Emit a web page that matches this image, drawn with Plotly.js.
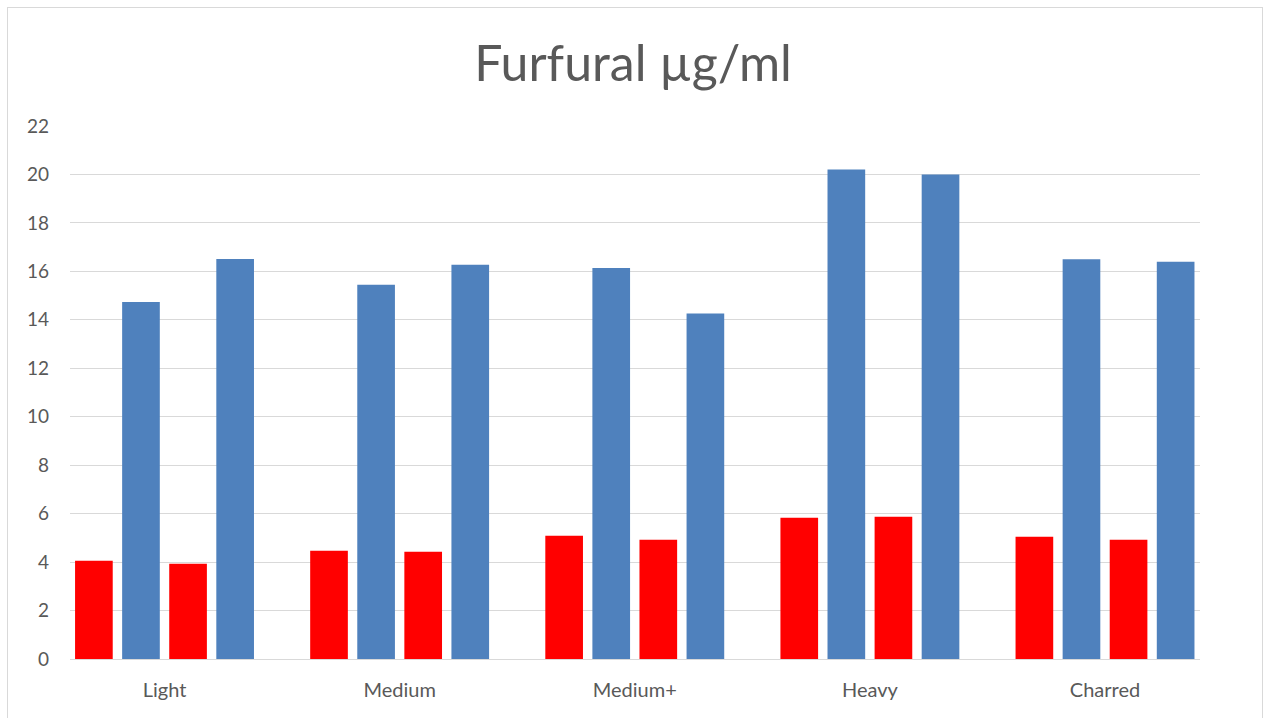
<!DOCTYPE html>
<html>
<head>
<meta charset="utf-8">
<script src="https://cdn.plot.ly/plotly-3.0.1.min.js"></script>
<style>
  html, body { margin: 0; padding: 0; background: #fff; }
  #chart { width: 1266px; height: 718px; }
  #frame { position: absolute; left: 7px; top: 7px; width: 1254px; height: 720px; border: 1px solid #D9D9D9; pointer-events: none; }
</style>
</head>
<body>
<div id="chart"></div>
<div id="frame"></div>
<script>
const categories = ["Light", "Medium", "Medium+", "Heavy", "Charred"];
const red1 = [4.06, 4.47, 5.09, 5.83, 5.05];
const blue1 = [14.74, 15.45, 16.14, 20.20, 16.50];
const red2 = [3.93, 4.43, 4.92, 5.87, 4.92];
const blue2 = [16.51, 16.27, 14.26, 20.00, 16.40];
const yTicks = [0, 2, 4, 6, 8, 10, 12, 14, 16, 18, 20, 22];

const RED = "#FF0000";
const BLUE = "#4F81BD";

function bar(y, color, name) {
  return { type: "bar", x: categories, y: y, name: name, marker: { color: color }, showlegend: false, hoverinfo: "x+y" };
}

const data = [
  bar(red1, RED, "Series 1"),
  bar(blue1, BLUE, "Series 2"),
  bar(red2, RED, "Series 3"),
  bar(blue2, BLUE, "Series 4")
];

const layout = {
  width: 1266, height: 718,
  paper_bgcolor: "#FFFFFF", plot_bgcolor: "#FFFFFF",
  font: { family: "Lato, 'Open Sans', sans-serif", color: "#595959" },
  title: { text: "Furfural µg/ml", font: { size: 50, color: "#595959", family: "Lato, 'Open Sans', sans-serif" }, x: 0.5, xanchor: "center", y: 0.912, yanchor: "middle" },
  margin: { l: 70, r: 66, t: 126, b: 59 },
  barmode: "group",
  bargap: 0.199,
  bargroupgap: 0.2,
  xaxis: {
    range: [-0.402, 4.404],
    showgrid: false, showline: true, linecolor: "#D9D9D9", linewidth: 1,
    ticks: "", tickfont: { size: 20, color: "#595959" }, ticklabelstandoff: 13
  },
  yaxis: {
    range: [0, 22], tickvals: yTicks, ticktext: yTicks.map(String),
    showgrid: true, gridcolor: "#D9D9D9", gridwidth: 1, zeroline: true, zerolinecolor: "#D9D9D9",
    showline: false, ticks: "", tickfont: { size: 19, color: "#595959" }, ticklabelstandoff: 20
  }
};

Plotly.newPlot("chart", data, layout, { displayModeBar: false, staticPlot: true });
</script>
</body>
</html>
